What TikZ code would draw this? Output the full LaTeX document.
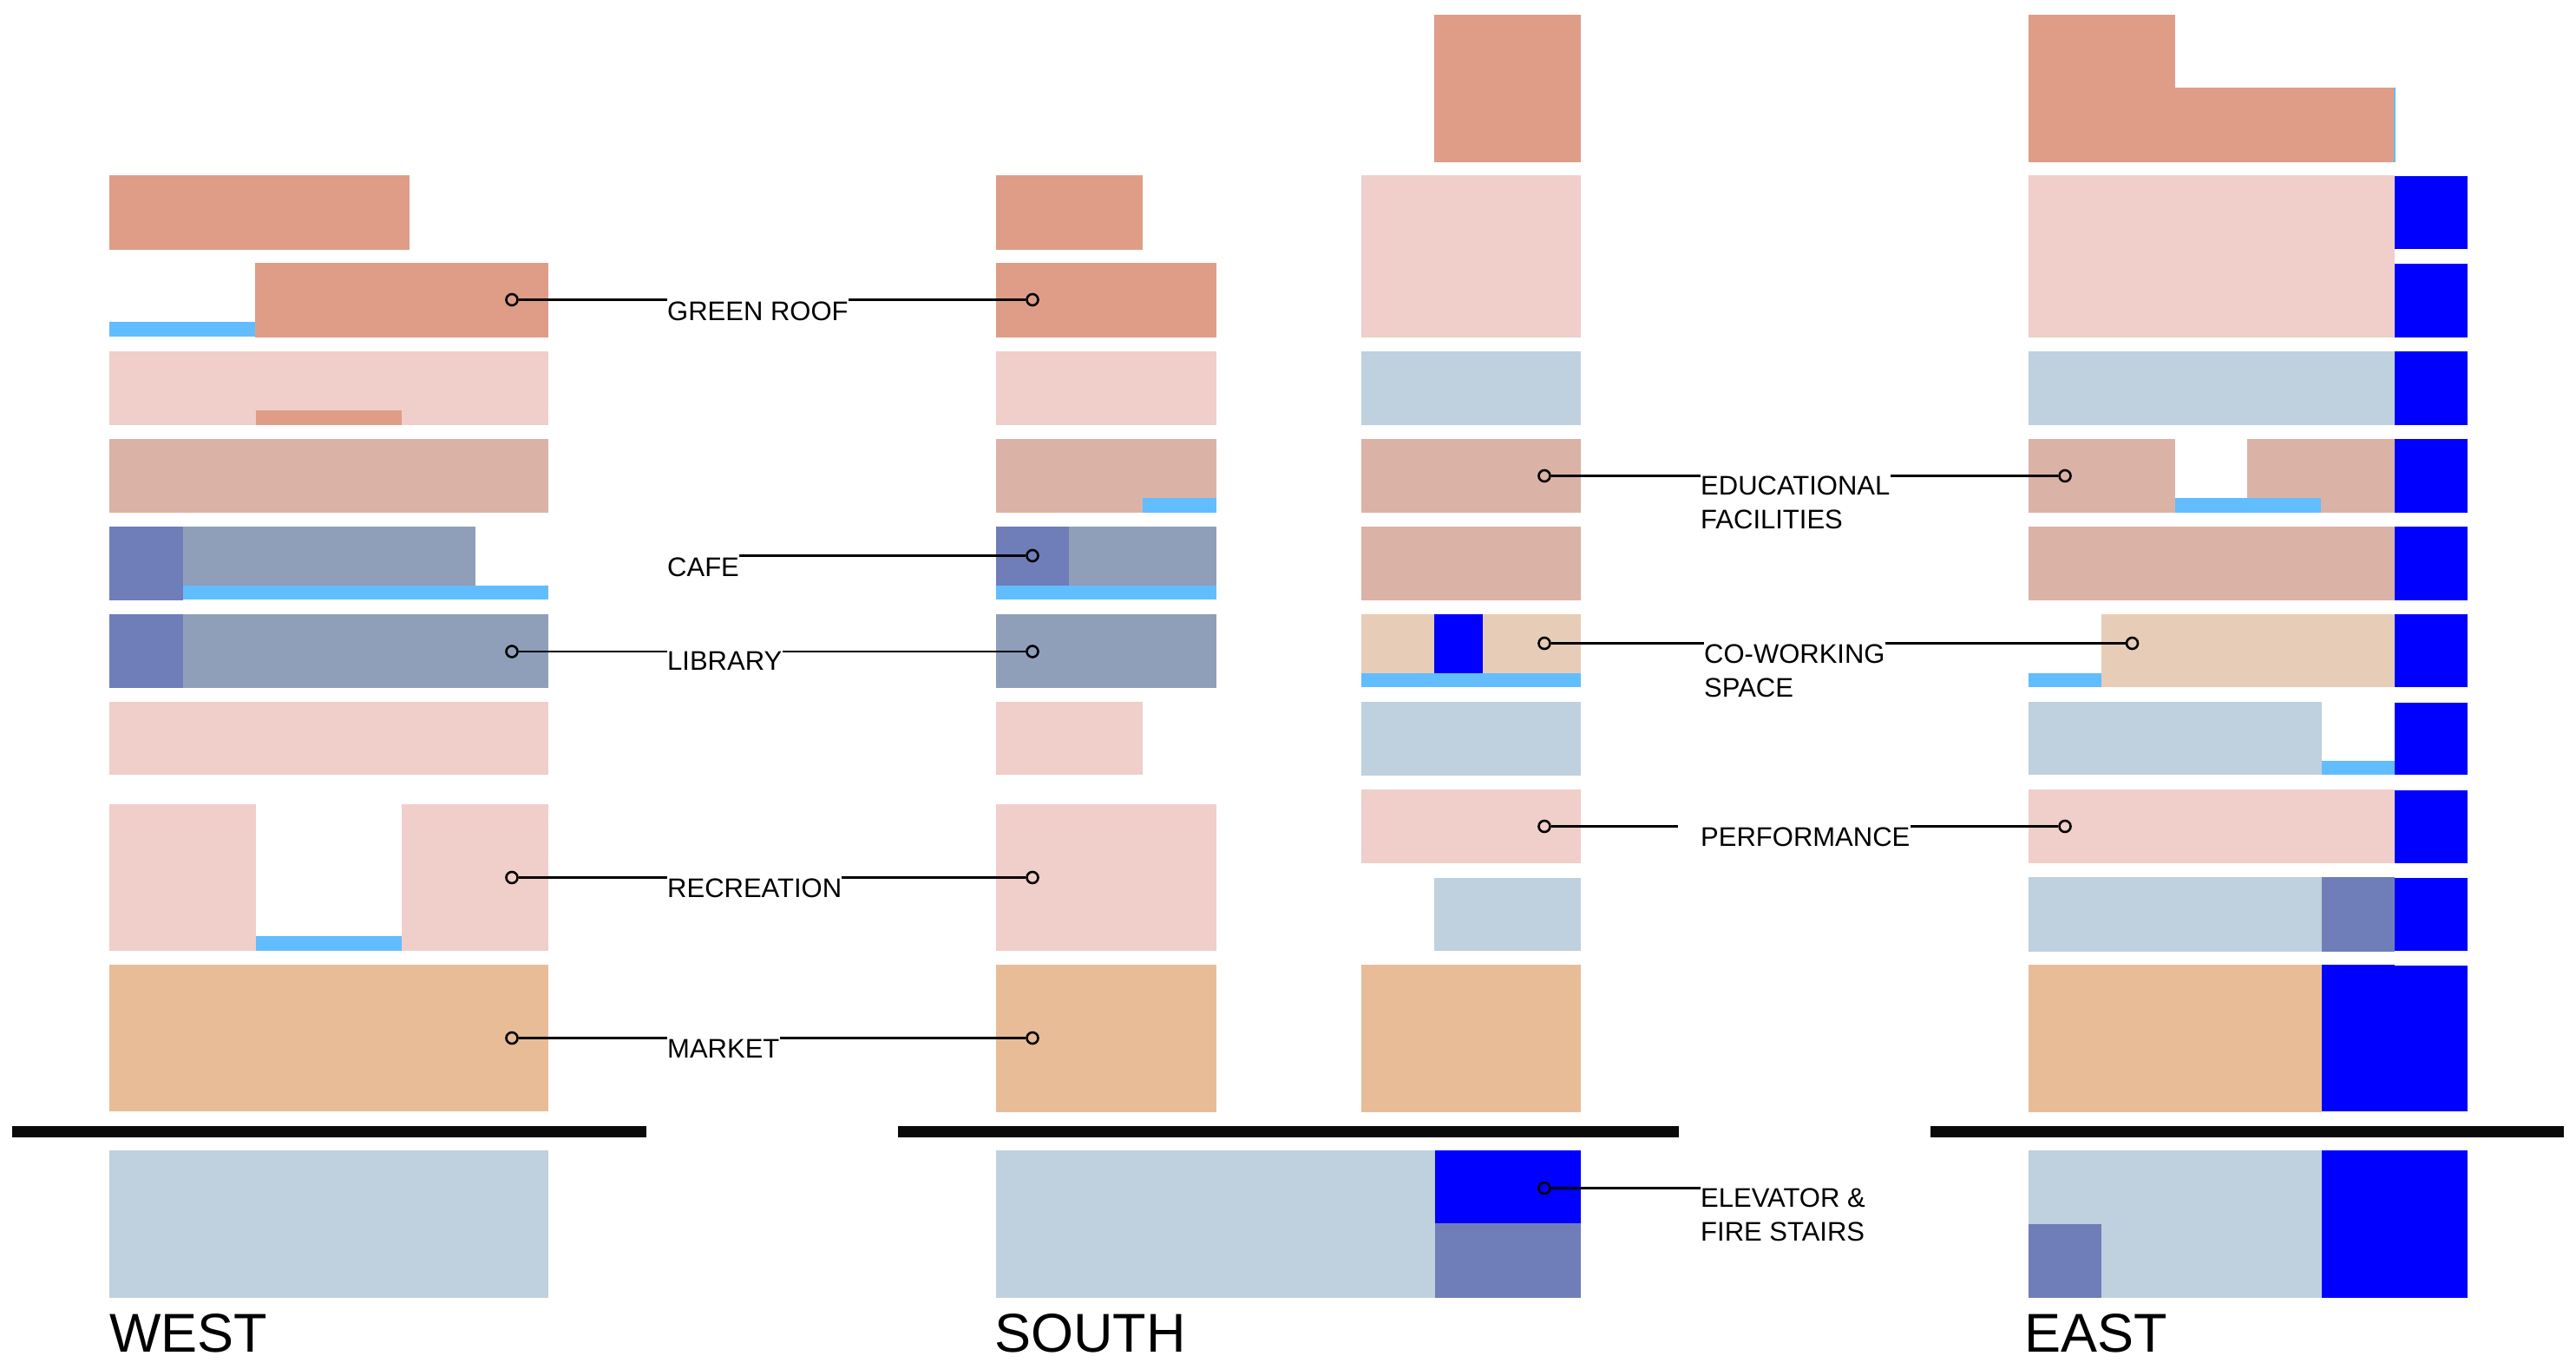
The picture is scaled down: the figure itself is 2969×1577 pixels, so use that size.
\documentclass[tikz,border=0pt]{standalone}
\usepackage{fontspec}
\setmainfont{Liberation Sans}
\definecolor{roofc}{HTML}{DF9D88}
\definecolor{pinkc}{HTML}{F0CEC9}
\definecolor{mistc}{HTML}{BFD0DE}
\definecolor{educ}{HTML}{DBB3A6}
\definecolor{slatec}{HTML}{8F9FBA}
\definecolor{darkc}{HTML}{6F7EB8}
\definecolor{tanc}{HTML}{E7CDB7}
\definecolor{marketc}{HTML}{E9BC98}
\definecolor{stairc}{HTML}{0000FF}
\definecolor{skyc}{HTML}{62BDFF}
\definecolor{barc}{HTML}{0A0A0A}
\tikzset{
  roof/.style={fill=roofc},
  recn/.style={fill=pinkc},
  mist/.style={fill=mistc},
  edu/.style={fill=educ},
  slate/.style={fill=slatec},
  dark/.style={fill=darkc},
  tanb/.style={fill=tanc},
  market/.style={fill=marketc},
  stair/.style={fill=stairc},
  sky/.style={fill=skyc},
  ground/.style={fill=barc},
  dotm/.style={circle,draw=black,line width=2.6pt,fill=none,minimum size=13pt,inner sep=0pt},
  leader/.style={draw=black,line width=2.6pt},
  lbl/.style={anchor=base west,inner sep=0pt,align=left,font=\fontsize{31}{38.7}\selectfont},
  title/.style={anchor=base west,inner sep=0pt,font=\fontsize{63}{70}\selectfont}
}
\begin{document}
\begin{tikzpicture}[x=1pt,y=-1pt]
\path[use as bounding box,fill=white] (0,0) rectangle (2969,1577);
% WEST
\fill[roof] (126,202) rectangle (472,288);
\fill[sky] (126,371) rectangle (294,388);
\fill[roof] (294,303) rectangle (632,389);
\fill[recn] (126,404.5) rectangle (632,490);
\fill[roof] (295,473) rectangle (463,490);
\fill[edu] (126,506) rectangle (632,591);
\fill[slate] (211,607) rectangle (548,675);
\fill[sky] (211,675) rectangle (632,691);
\fill[dark] (126,607) rectangle (211,692);
\fill[slate] (211,708) rectangle (632,793);
\fill[dark] (126,708) rectangle (211,793);
\fill[recn] (126,809) rectangle (632,893);
\fill[recn] (126,927) rectangle (295,1096);
\fill[recn] (463,927) rectangle (632,1096);
\fill[sky] (295,1079) rectangle (463,1096);
\fill[market] (126,1112) rectangle (632,1281);
\fill[ground] (14,1297.5) rectangle (745,1310.5);
\fill[mist] (126,1325.5) rectangle (632,1495.5);
% SOUTH, first column
\fill[roof] (1148,202) rectangle (1317,288);
\fill[roof] (1148,303) rectangle (1401.5,389);
\fill[recn] (1148,404.5) rectangle (1401.5,490);
\fill[edu] (1148,506) rectangle (1401.5,591);
\fill[sky] (1317,574) rectangle (1401.5,591);
\fill[slate] (1232,607) rectangle (1401.5,675);
\fill[dark] (1148,607) rectangle (1232,675);
\fill[sky] (1148,675) rectangle (1401.5,691);
\fill[slate] (1148,708) rectangle (1401.5,793);
\fill[recn] (1148,809) rectangle (1317,893);
\fill[recn] (1148,927) rectangle (1401.5,1096);
\fill[market] (1148,1112) rectangle (1401.5,1282);
\fill[ground] (1035,1297.5) rectangle (1935,1310.5);
\fill[mist] (1148,1325.5) rectangle (1654,1495.5);
\fill[stair] (1654,1326) rectangle (1822,1410);
\fill[dark] (1654,1410) rectangle (1822,1495.5);
% SOUTH, second column
\fill[roof] (1653,17) rectangle (1822,187);
\fill[recn] (1569,202) rectangle (1822,389);
\fill[mist] (1569,405) rectangle (1822,490);
\fill[edu] (1569,506) rectangle (1822,591);
\fill[edu] (1569,607) rectangle (1822,692);
\fill[tanb] (1569,708) rectangle (1822,776);
\fill[stair] (1653,708) rectangle (1709,776);
\fill[sky] (1569,776) rectangle (1822,792);
\fill[mist] (1569,809) rectangle (1822,894);
\fill[recn] (1569,910) rectangle (1822,995);
\fill[mist] (1653,1011.5) rectangle (1822,1096);
\fill[market] (1569,1112) rectangle (1822,1282);
% EAST
\fill[sky] (2759,101) rectangle (2761,187);
\fill[roof] (2338,17) rectangle (2507,187);
\fill[roof] (2507,101) rectangle (2759,187);
\fill[recn] (2338,202) rectangle (2759.5,389);
\fill[stair] (2759.5,203) rectangle (2844,287);
\fill[stair] (2759.5,304) rectangle (2844,389);
\fill[mist] (2338,405) rectangle (2759.5,490);
\fill[stair] (2759.5,405) rectangle (2844,490);
\fill[edu] (2338,506) rectangle (2507,591);
\fill[edu] (2590,506) rectangle (2759.5,591);
\fill[sky] (2507,574) rectangle (2675,591);
\fill[stair] (2759.5,506) rectangle (2844,591);
\fill[edu] (2338,607) rectangle (2759.5,692);
\fill[stair] (2759.5,607) rectangle (2844,692);
\fill[tanb] (2422,708) rectangle (2759.5,792);
\fill[sky] (2338,776) rectangle (2422,792);
\fill[stair] (2759.5,708) rectangle (2844,792);
\fill[mist] (2338,809) rectangle (2676,893);
\fill[sky] (2676,877) rectangle (2759.5,893);
\fill[stair] (2759.5,810) rectangle (2844,893);
\fill[recn] (2338,910) rectangle (2759.5,995);
\fill[stair] (2759.5,911) rectangle (2844,995);
\fill[mist] (2338,1011) rectangle (2676,1097);
\fill[dark] (2676,1011) rectangle (2759.5,1097);
\fill[stair] (2759.5,1012) rectangle (2844,1096);
\fill[market] (2338,1112) rectangle (2676,1282);
\fill[stair] (2676,1112) rectangle (2759.5,1281);
\fill[stair] (2759.5,1113) rectangle (2844,1281);
\fill[ground] (2225,1298) rectangle (2955,1310.5);
\fill[mist] (2338,1326) rectangle (2676,1495.5);
\fill[stair] (2676,1326) rectangle (2844,1495.5);
\fill[dark] (2338,1411) rectangle (2422,1495.5);
% Titles
\node[title] (tWest) at (126,1558) {WEST};
\node[title] (tSouth) at (1146,1558) {SOUTH};
\node[title] (tEast) at (2333,1558) {EAST};
% Labels
\node[lbl] (lGreen) at (769,369) {GREEN ROOF};
\node[lbl] (lCafe) at (769,664) {CAFE};
\node[lbl] (lLibrary) at (769,772.5) {LIBRARY};
\node[lbl] (lRec) at (769,1034) {RECREATION};
\node[lbl] (lMarket) at (769,1219) {MARKET};
\node[lbl] (lEdu) at (1960,609.5) {EDUCATIONAL\\FACILITIES};
\node[lbl] (lCow) at (1964,803) {CO-WORKING\\SPACE};
\node[lbl] (lPerf) at (1960,975) {PERFORMANCE};
\node[lbl] (lElev) at (1960,1430) {ELEVATOR \&\\FIRE STAIRS};
% Dots
\node[dotm] (gA) at (590,345.5) {};
\node[dotm] (gB) at (1190,345.5) {};
\node[dotm] (cB) at (1190,640.5) {};
\node[dotm] (bA) at (590,751) {};
\node[dotm] (bB) at (1190,751) {};
\node[dotm] (rA) at (590,1011.5) {};
\node[dotm] (rB) at (1190,1011.5) {};
\node[dotm] (mA) at (590,1196.5) {};
\node[dotm] (mB) at (1190,1196.5) {};
\node[dotm] (eA) at (1780,548.5) {};
\node[dotm] (eB) at (2380,548.5) {};
\node[dotm] (wA) at (1780,741.5) {};
\node[dotm] (wB) at (2457.5,741.5) {};
\node[dotm] (pA) at (1780,952.5) {};
\node[dotm] (pB) at (2380,952.5) {};
\node[dotm] (sA) at (1780,1369.5) {};
\coordinate (pEnd) at (1934,952.5);
% Leaders
\draw[leader] (gA) -- (gA -| lGreen.west);
\draw[leader] (gB) -- (gB -| lGreen.east);
\draw[leader] (cB) -- (cB -| lCafe.east);
\draw[leader] (bA) -- (bA -| lLibrary.west);
\draw[leader] (bB) -- (bB -| lLibrary.east);
\draw[leader] (rA) -- (rA -| lRec.west);
\draw[leader] (rB) -- (rB -| lRec.east);
\draw[leader] (mA) -- (mA -| lMarket.west);
\draw[leader] (mB) -- (mB -| lMarket.east);
\draw[leader] (eA) -- (eA -| lEdu.west);
\draw[leader] (eB) -- (eB -| lEdu.east);
\draw[leader] (wA) -- (wA -| lCow.west);
\draw[leader] (wB) -- (wB -| lCow.east);
\draw[leader] (pA) -- (pEnd);
\draw[leader] (pB) -- (pB -| lPerf.east);
\draw[leader] (sA) -- (sA -| lElev.west);
\end{tikzpicture}
\end{document}
